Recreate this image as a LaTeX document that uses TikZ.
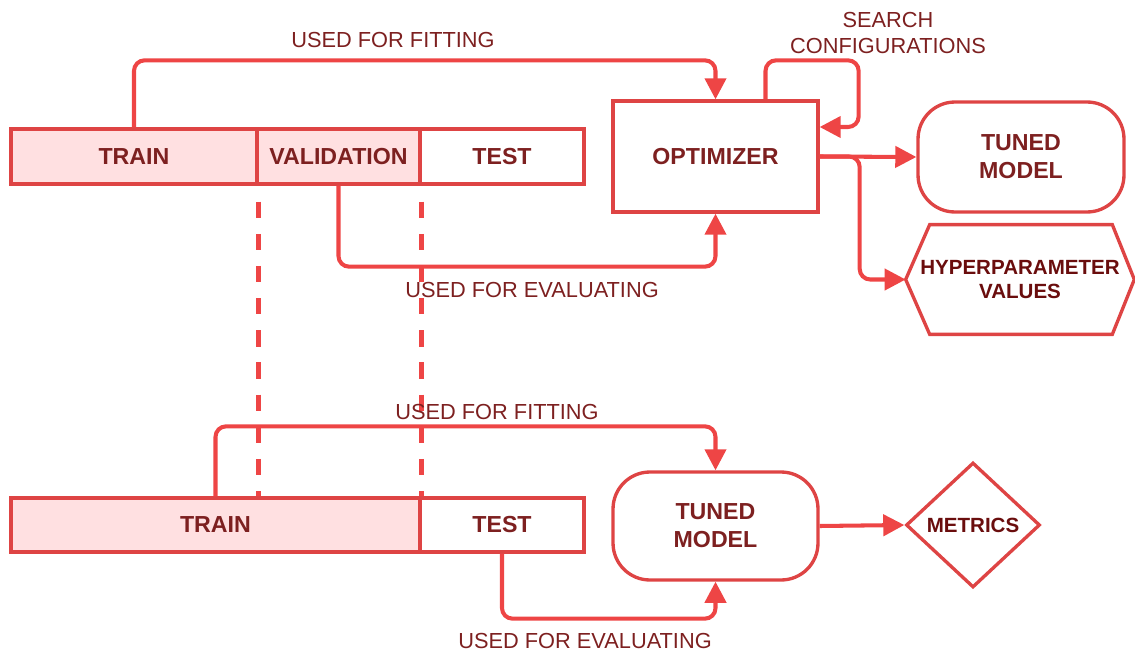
\documentclass[tikz,border=0pt]{standalone}
\usepackage{fontspec}
\setmainfont{Liberation Sans}
\usetikzlibrary{arrows.meta,calc,shapes.geometric}
\definecolor{linered}{HTML}{EE4545}
\definecolor{boxred}{HTML}{DE4444}
\definecolor{txtred}{HTML}{7D2020}
\definecolor{deepred}{HTML}{6A0D0D}
\definecolor{pinkfill}{HTML}{FFE0E1}

\begin{document}
\begin{tikzpicture}[x=0.02cm,y=-0.02cm,
  outline/.style={draw=boxred, line width=1.9pt, line join=miter},
  box/.style={outline, inner sep=0pt, align=center, text=txtred,
    font=\fontsize{13.2}{16}\selectfont\bfseries},
  part/.style={box, minimum height=1.1cm},
  term/.style={box, rounded corners=21pt},
  small/.style={inner sep=0pt, align=center, text=deepred,
    font=\fontsize{11.7}{14.2}\selectfont\bfseries},
  conn/.style={draw=linered, line width=2.3pt, rounded corners=6pt},
  arr/.style={conn, -{Triangle[length=12pt,width=12pt]}},
  lbl/.style={text=txtred, font=\fontsize{12.4}{14.7}\selectfont, align=center, inner sep=0pt},
  guide/.style={draw=linered, line width=2.6pt, dash pattern=on 9.3pt off 9pt}
]
\useasboundingbox (0,0) rectangle (1135,652);

% ---- first split: train / validation / test
\node[part, fill=pinkfill, minimum width=4.92cm] (trainA) at (134,156.5) {TRAIN};
\node[part, fill=pinkfill, minimum width=3.26cm] (valA) at (338.5,156.5) {VALIDATION};
\node[part, fill=white, minimum width=3.28cm] (testA) at (502,156.5) {TEST};

\node[box, minimum width=4.1cm, minimum height=2.22cm] (opt) at (715.5,156.5) {OPTIMIZER};
\node[term, minimum width=4.12cm, minimum height=2.2cm] (tuneA) at (1021,157) {TUNED\\MODEL};

% hexagon for the hyperparameter values
\node[small, minimum width=4.56cm, minimum height=2.18cm] (hyper) at (1020,279.5) {HYPERPARAMETER\\VALUES};
\draw[outline] (hyper.west) -- ($(hyper.north west)+(24,0)$) -- ($(hyper.north east)+(-22,0)$)
  -- (hyper.east) -- ($(hyper.south east)+(-22,0)$) -- ($(hyper.south west)+(24,0)$) -- cycle;

% ---- second split: train / test
\node[part, fill=pinkfill, minimum width=8.18cm, minimum height=1.08cm] (trainB) at (215.5,525) {TRAIN};
\node[part, fill=white, minimum width=3.28cm, minimum height=1.08cm] (testB) at (502,525) {TEST};
\node[term, minimum width=4.1cm, minimum height=2.16cm] (tuneB) at (715.5,526) {TUNED\\MODEL};
\node[small, outline, diamond, aspect=1.07, minimum width=2.68cm, minimum height=2.5cm] (metrics) at (973,525) {METRICS};

% ---- split boundaries carried down
\draw[guide] ($(trainA.south east)+(0,16)$) -- (trainA.south east |- trainB.north);
\draw[guide] ($(valA.south east)+(0,16)$) -- (valA.south east |- testB.north);

% ---- connectors, upper part
\draw[arr] (trainA.north) |- ($(opt.north)+(0,-39)$) -- (opt.north);
\draw[arr] (valA.south) |- ($(opt.south)+(0,53)$) -- (opt.south);
\draw[arr] ($(opt.north)+(50,0)$) |- ($(opt.north east)+(39,-39)$) |- ($(opt.east)+(0,-29.5)$);
\draw[arr] (opt.east) -- (tuneA.west);
\draw[arr] (opt.east) -| ($(hyper.west)+(-46,0)$) -- (hyper.west);

% ---- connectors, lower part
\draw[arr] (trainB.north) |- ($(tuneB.north)+(0,-44)$) -- (tuneB.north);
\draw[arr] (testB.south) |- ($(tuneB.south)+(0,37)$) -- (tuneB.south);
\draw[arr] (tuneB.east) -- (metrics.west);

% ---- labels
\node[lbl] (fitAlbl) at (393,40) {USED FOR FITTING};
\node[lbl] (evalAlbl) at (532,290) {USED FOR EVALUATING};
\node[lbl] (searchlbl) at (888,33) {SEARCH\\CONFIGURATIONS};
\node[lbl] (fitBlbl) at (497,412) {USED FOR FITTING};
\node[lbl] (evalBlbl) at (585,641) {USED FOR EVALUATING};
\end{tikzpicture}
\end{document}
